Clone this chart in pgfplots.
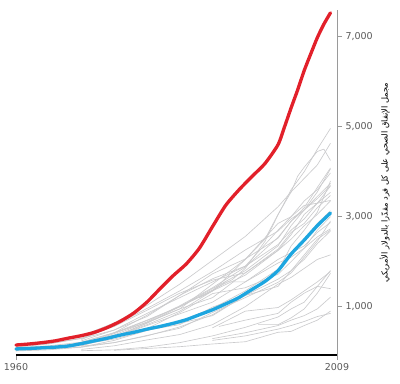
\documentclass[border=0pt]{standalone}
\usepackage{pgfplots}
\pgfplotsset{compat=1.18}
\usepackage{fontspec}
\setmainfont{DejaVu Sans}
\newfontfamily\arabicfont[Script=Arabic]{DejaVu Sans}
\TeXXeTstate=1
\definecolor{usred}{HTML}{E2202A}
\definecolor{oecdblue}{HTML}{1DA6E0}
\definecolor{gline}{HTML}{CBCBCD}
\definecolor{tickgray}{HTML}{5A5A5A}
\definecolor{axgray}{HTML}{9A9A9A}
\begin{document}
\begin{tikzpicture}
\begin{axis}[
  name=ax,
  scale only axis,
  width=321pt, height=345.3pt,
  xmin=1960, xmax=2009,
  ymin=-75, ymax=7600,
  axis x line*=bottom,
  axis y line*=right,
  x axis line style={black, line width=1.1pt, -},
  y axis line style={axgray, line width=0.8pt, -},
  xtick={1960,2009},
  ytick={1000,3000,5000,7000},
  tick align=outside,
  major tick length=5pt,
  tick style={axgray, line width=0.8pt},
  x tick label style={/pgf/number format/1000 sep={}},
  y tick label style={/pgf/number format/1000 sep={,}},
  /pgf/number format/assume math mode=true,
  tick label style={font=\fontsize{9.5}{11}\selectfont, text=tickgray},
  ylabel={\arabicfont\beginR مجمل الإنفاق الصحي على كل فرد مقدّرا بالدولار الأمريكي\endR},
  ylabel style={font=\fontsize{8.3}{10}\selectfont, text=black},
  clip=false,
  every axis plot/.append style={line join=round, line cap=round},
]
\pgfplotsset{gl/.style={gline, line width=0.65pt}}
% Norway
\addplot[gl] coordinates {(1960,50)(1965,80)(1970,130)(1975,330)(1980,630)(1985,1000)(1990,1370)(1993,1600)(1995,1850)(1998,2450)(2000,3040)(2002,3600)(2004,4000)(2006,4500)(2008,4960)};
% Switzerland
\addplot[gl] coordinates {(1960,160)(1965,230)(1970,350)(1975,640)(1980,1030)(1985,1500)(1990,2030)(1995,2560)(2000,3220)(2002,3550)(2004,3850)(2006,4150)(2008,4630)};
% Luxembourg
\addplot[gl] coordinates {(1970,150)(1975,330)(1980,640)(1985,950)(1990,1500)(1995,2050)(1998,2500)(2000,3050)(2002,3550)(2003,3900)(2004,4100)(2006,4450)(2007,4500)(2008,4250)};
% Netherlands
\addplot[gl] coordinates {(1970,210)(1975,420)(1980,700)(1985,1000)(1990,1400)(1995,1800)(2000,2350)(2002,2800)(2004,3150)(2006,3550)(2008,4060)};
% Austria
\addplot[gl] coordinates {(1960,70)(1965,100)(1970,160)(1975,400)(1980,690)(1985,1000)(1990,1350)(1995,2050)(2000,2850)(2002,3000)(2004,3350)(2006,3600)(2008,3970)};
% Canada
\addplot[gl] coordinates {(1960,120)(1965,180)(1970,290)(1975,480)(1980,780)(1985,1250)(1990,1730)(1995,2060)(2000,2520)(2002,2900)(2004,3200)(2006,3650)(2008,4080)};
% Germany
\addplot[gl] coordinates {(1970,270)(1975,580)(1980,960)(1985,1350)(1990,1780)(1995,2260)(2000,2680)(2002,2950)(2004,3150)(2006,3450)(2008,3740)};
% France
\addplot[gl] coordinates {(1960,60)(1965,110)(1970,190)(1975,370)(1980,660)(1985,1020)(1990,1420)(1995,1880)(2000,2540)(2002,2900)(2004,3150)(2006,3400)(2008,3700)};
% Belgium
\addplot[gl] coordinates {(1960,50)(1965,80)(1970,140)(1975,330)(1980,600)(1985,900)(1990,1350)(1995,1700)(2000,2250)(2002,2600)(2004,3050)(2006,3300)(2008,3680)};
% Denmark
\addplot[gl] coordinates {(1970,240)(1975,480)(1980,850)(1985,1200)(1990,1550)(1995,1900)(2000,2380)(2002,2700)(2004,2950)(2006,3300)(2008,3540)};
% Sweden
\addplot[gl] coordinates {(1960,100)(1965,170)(1970,300)(1975,560)(1980,920)(1985,1300)(1990,1590)(1995,1750)(2000,2280)(2002,2650)(2004,2850)(2006,3200)(2008,3470)};
% Ireland
\addplot[gl] coordinates {(1960,40)(1965,60)(1970,100)(1975,250)(1980,470)(1985,630)(1990,800)(1995,1250)(2000,1800)(2002,2350)(2004,2700)(2006,3100)(2008,3790)};
% Iceland
\addplot[gl] coordinates {(1960,50)(1965,90)(1970,170)(1975,420)(1980,810)(1985,1250)(1990,1620)(1995,1900)(2000,2700)(2002,3000)(2004,3250)(2006,3300)(2008,3360)};
% Australia
\addplot[gl] coordinates {(1960,90)(1965,130)(1970,210)(1975,420)(1980,650)(1985,950)(1990,1200)(1995,1750)(2000,2250)(2002,2500)(2004,2800)(2006,3050)(2008,3350)};
% UK
\addplot[gl] coordinates {(1960,80)(1965,110)(1970,160)(1975,280)(1980,470)(1985,680)(1990,960)(1995,1350)(2000,1830)(2002,2200)(2004,2500)(2006,2850)(2008,3130)};
% Finland
\addplot[gl] coordinates {(1960,50)(1965,90)(1970,160)(1975,310)(1980,510)(1985,870)(1990,1290)(1995,1420)(2000,1720)(2002,2000)(2004,2300)(2006,2700)(2008,3000)};
% Italy
\addplot[gl] coordinates {(1988,1200)(1990,1350)(1992,1550)(1995,1550)(2000,2050)(2002,2200)(2004,2350)(2006,2650)(2008,2870)};
% Spain
\addplot[gl] coordinates {(1960,15)(1965,40)(1970,100)(1975,200)(1980,360)(1985,520)(1990,870)(1995,1200)(2000,1540)(2002,1750)(2004,2100)(2006,2450)(2008,2900)};
% Japan
\addplot[gl] coordinates {(1960,30)(1965,70)(1970,150)(1975,320)(1980,580)(1985,840)(1990,1100)(1995,1550)(2000,1970)(2002,2100)(2004,2300)(2006,2550)(2008,2730)};
% New Zealand
\addplot[gl] coordinates {(1970,200)(1975,350)(1980,480)(1985,600)(1990,990)(1995,1250)(2000,1610)(2002,1800)(2004,2050)(2006,2400)(2008,2680)};
% Greece
\addplot[gl] coordinates {(1970,120)(1975,200)(1980,350)(1985,550)(1990,820)(1995,1250)(2000,1450)(2002,1800)(2004,2150)(2006,2500)(2008,2700)};
% Portugal
\addplot[gl] coordinates {(1970,50)(1975,130)(1980,260)(1985,380)(1990,600)(1995,1000)(2000,1500)(2002,1650)(2004,1850)(2006,2050)(2008,2150)};
% Czech Republic
\addplot[gl] coordinates {(1990,530)(1993,750)(1995,900)(2000,980)(2002,1150)(2004,1350)(2006,1550)(2008,1780)};
% Korea
\addplot[gl] coordinates {(1970,20)(1975,40)(1980,100)(1985,200)(1990,350)(1995,540)(2000,770)(2002,950)(2004,1100)(2006,1450)(2008,1800)};
% Slovakia
\addplot[gl] coordinates {(1997,600)(2000,600)(2002,750)(2004,950)(2006,1300)(2008,1740)};
% Hungary
\addplot[gl] coordinates {(1991,560)(1995,700)(2000,850)(2002,1100)(2004,1300)(2006,1450)(2008,1400)};
% Poland
\addplot[gl] coordinates {(1990,290)(1995,420)(2000,580)(2002,700)(2004,800)(2006,950)(2008,1210)};
% Mexico
\addplot[gl] coordinates {(1990,250)(1995,350)(2000,500)(2002,580)(2004,670)(2006,780)(2008,850)};
% Turkey
\addplot[gl] coordinates {(1975,30)(1980,70)(1985,110)(1990,170)(1995,220)(2000,430)(2002,450)(2004,580)(2006,700)(2008,900)};
% OECD average
\addplot[oecdblue, line width=3.3pt, smooth, tension=0.4] coordinates {(1960,60)(1962,70)(1964,85)(1966,100)(1968,125)(1970,180)(1972,240)(1974,300)(1976,370)(1978,430)(1980,500)(1982,560)(1984,630)(1986,710)(1988,820)(1990,930)(1992,1060)(1994,1200)(1996,1380)(1998,1560)(2000,1800)(2002,2170)(2004,2480)(2006,2800)(2008,3080)};
% United States
\addplot[usred, line width=3.3pt, smooth, tension=0.4] coordinates {(1960,147)(1962,170)(1964,200)(1966,240)(1968,300)(1970,356)(1972,430)(1974,540)(1976,680)(1978,860)(1980,1102)(1982,1400)(1984,1690)(1986,1950)(1988,2300)(1990,2780)(1992,3250)(1994,3590)(1996,3890)(1998,4180)(2000,4600)(2001,5000)(2002,5420)(2003,5820)(2004,6250)(2005,6620)(2006,6980)(2007,7280)(2008,7530)};
\end{axis}
\pgfresetboundingbox
\path[use as bounding box] ([xshift=-16pt,yshift=-28pt]ax.south west) rectangle ([xshift=63pt,yshift=9.7pt]ax.north east);
\end{tikzpicture}
\end{document}
